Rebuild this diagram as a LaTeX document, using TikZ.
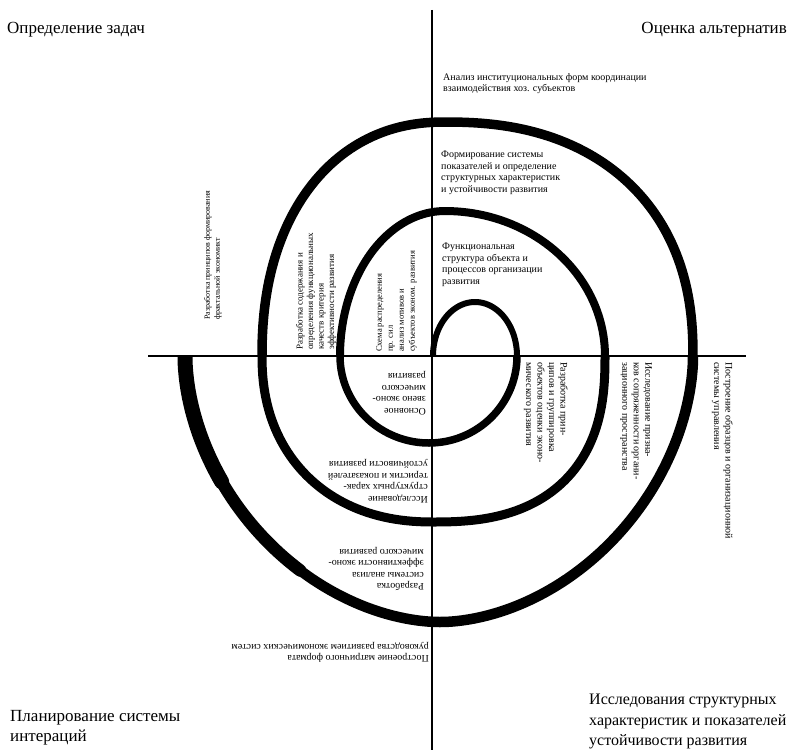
\documentclass[tikz,border=0pt]{standalone}
\usepackage{fontspec}
\setmainfont{Liberation Serif}
\begin{document}
\begin{tikzpicture}[x=1pt,y=-1pt,
  sm/.style={font=\fontsize{10}{11.5}\selectfont, inner sep=0pt, align=left},
  big/.style={font=\fontsize{17}{20.5}\selectfont, inner sep=0pt, align=left},
  axisline/.style={line width=1.8pt},
  spir/.style={line width=#1, line cap=butt, line join=round}]
\useasboundingbox (0,0) rectangle (794,752);
\fill[white] (0,0) rectangle (794,752);
% axes
\coordinate (vt) at (432,10);
\coordinate (vb) at (432,750);
\coordinate (hl) at (148,356);
\coordinate (hr) at (746,356);
\draw[axisline] (vt) -- (vb);
\draw[axisline] (hl) -- (hr);
% spiral (quarters of super-ellipses)
% A1
\draw[spir=6pt] plot[domain=180:360,samples=60] ({475+42*cos(\x)},{356+54*sin(\x)});
% B1
\draw[spir=7.5pt] plot[domain=0:90,samples=40] ({429+88*cos(\x)},{356+87*sin(\x)})
  -- plot[domain=90:180,samples=40] ({429+89*cos(\x)},{356+87*sin(\x)});
% A2
\draw[spir=8pt] plot[domain=180:270,samples=45] ({445+105*cos(\x)},{356+145*sin(\x)})
  -- plot[domain=270:360,samples=45] ({445+160*cos(\x)},{356+145*sin(\x)});
% B2
\draw[spir=9pt] plot[domain=0:90,samples=50] ({433+172*cos(\x)*pow(abs(cos(\x))+0.0001,-0.2)},{356+166*sin(\x)*pow(abs(sin(\x))+0.0001,-0.2)})
  -- plot[domain=90:180,samples=50] ({433+171*cos(\x)*pow(abs(cos(\x))+0.0001,-0.0909)},{356+166*sin(\x)*pow(abs(sin(\x))+0.0001,-0.0909)});
% A3
\draw[spir=9.5pt] plot[domain=180:270,samples=60] ({445+183*cos(\x)*pow(abs(cos(\x))+0.0001,-0.0909)},{356+234*sin(\x)*pow(abs(sin(\x))+0.0001,-0.0909)})
  -- plot[domain=270:360,samples=60] ({445+248*cos(\x)*pow(abs(cos(\x))+0.0001,-0.1304)},{356+234*sin(\x)*pow(abs(sin(\x))+0.0001,-0.1304)});
% B3
\draw[spir=10.5pt] plot[domain=0:90,samples=60] ({440+253*cos(\x)*pow(abs(cos(\x))+0.0001,0.0811)},{356+266*sin(\x)*pow(abs(sin(\x))+0.0001,0.0811)})
  -- plot[domain=90:180,samples=60] ({440+255*cos(\x)*pow(abs(cos(\x))+0.0001,0.0811)},{356+266*sin(\x)*pow(abs(sin(\x))+0.0001,0.0811)});
% thickening towards the outer end
\begin{scope}
  \clip (0,356) rectangle (794,752);
  \draw[line width=12.5pt, line cap=round] plot[domain=125:180,samples=40] ({440+255*cos(\x)*pow(abs(cos(\x))+0.0001,0.0811)},{356+266*sin(\x)*pow(abs(sin(\x))+0.0001,0.0811)});
  \draw[line width=15pt, line cap=round] plot[domain=150:180,samples=30] ({440+255*cos(\x)*pow(abs(cos(\x))+0.0001,0.0811)},{356+266*sin(\x)*pow(abs(sin(\x))+0.0001,0.0811)});
\end{scope}
% texts
\node[sm, anchor=north west] (t1) at (443,73) {Анализ институциональных форм координации\\взаимодействия хоз. субъектов};
\node[sm, anchor=north west] (t2) at (441,151) {Формирование системы\\показателей и определение\\структурных характеристик\\и устойчивости развития};
\node[sm, anchor=north west] (t3) at (442,243) {Функциональная\\структура объекта и\\процессов организации\\развития};
\node[sm, font=\fontsize{8}{10}\selectfont, anchor=north west, rotate=90] (t4) at (204,320) {Разработка принципов формирования\\фрактальной экономикт};
\node[sm, font=\fontsize{9}{10.5}\selectfont, anchor=north west, rotate=90] (t5) at (296,350) {Разработка содержания и\\определения функциональных\\качеств критерия\\эффективности развития};
\node[sm, font=\fontsize{8.5}{11}\selectfont, anchor=north west, rotate=90] (t6) at (376,352) {Схема распределения\\пр. сил\\анализ мотивов и\\субъектов эконом. развития};
\node[sm, anchor=north west, rotate=-90] (t7) at (568,362) {Разработка прин-\\ципов и группировка\\объектов оценки эконо-\\мического развития};
\node[sm, anchor=north west, rotate=-90] (t8) at (652,362) {Исследование призна-\\ков сопряженности органи-\\зационного пространства};
\node[sm, anchor=north west, rotate=-90] (t9) at (733,362) {Построение образцов и организационной\\системы управления};
\node[sm, anchor=north west, rotate=180] (t10) at (426,415) {Основное\\звено эконо-\\мического\\развития};
\node[sm, anchor=north west, rotate=180] (t11) at (428,503) {Исследование\\структурных харак-\\теристик и показателей\\устойчивости развития};
\node[sm, anchor=north west, rotate=180] (t12) at (424,591) {Разработка\\системы анализа\\эффективности эконо-\\мического развития};
\node[sm, anchor=north west, rotate=180] (t13) at (429,663) {Построение матричного формата\\руководства развитием экономических систем};
\node[big, anchor=west] (c1) at (7,30) {Определение задач};
\node[big, anchor=east] (c2) at (787,30) {Оценка альтернатив};
\node[big, anchor=north west] (c3) at (10,710) {Планирование системы\\интераций};
\node[big, font=\fontsize{16}{20.5}\selectfont, anchor=north west] (c4) at (589,694) {Исследования структурных\\характеристик и показателей\\устойчивости развития};
\end{tikzpicture}
\end{document}
